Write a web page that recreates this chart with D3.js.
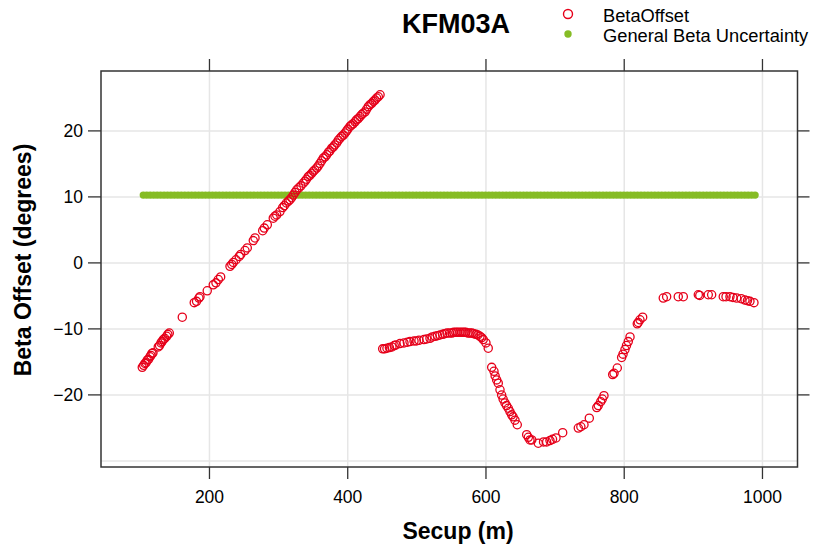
<!DOCTYPE html>
<html>
<head>
<meta charset="utf-8">
<script src="https://cdn.jsdelivr.net/npm/d3@7"></script>
<style>
  body { margin: 0; background: #fff; }
  svg { display: block; font-family: "Liberation Sans", Arial, sans-serif; }
  .axis path { display: none; }
  .axis line { stroke: #333; stroke-width: 1.3; }
  .axis text { font-size: 17.5px; fill: #000; }
  .grid path { display: none; }
  .grid line { stroke: #e6e6e6; stroke-width: 1.5; }
</style>
</head>
<body>
<div id="chart"></div>
<script>
// BetaOffset measurements (Secup in m, offset in degrees)
const secup = [
  103.5, 105.5, 107.4, 109, 110.7, 112.5, 114.6, 116, 117.5, 119,
  126.6, 128.5, 130.6, 132, 133.9, 136, 138.8, 140.5, 142.6, 161.4,
  178.7, 182, 185.5, 187, 197.5, 206.2, 210.1, 213.5, 216.9, 230.4,
  233, 235.2, 239.1, 243.8, 246, 252.1, 255.4, 264.1, 266.6, 277.7,
  280, 284.4, 293, 295.5, 298, 302.7, 306.6, 309, 312, 315,
  317.2, 319.5, 322, 324.5, 327, 330, 333, 336.4, 339, 341,
  343.7, 346, 348.6, 351, 353, 355.8, 358, 360.6, 363, 365.4,
  368, 370.3, 373, 375, 377.6, 380, 382, 384.8, 387, 389.5,
  392, 394.5, 396.8, 399, 401, 404, 406, 408.5, 411.3, 413.5,
  416, 418.5, 421, 423, 425.8, 428, 430.5, 433, 435.5, 438,
  440.2, 442.5, 445, 447.5,
  451.3, 454, 457.5, 461, 464.7, 468, 470.5, 476.3, 482.1, 487,
  490.8, 496.6, 500, 503.8, 511, 515, 519.7, 523, 527, 530.5,
  534.2, 538, 541, 544.3, 548, 551.5, 554, 557.3, 560, 563.1,
  566, 568.9, 571.5, 574.7, 577.5, 580.5, 583, 586.3, 589, 592.1,
  594.5, 596.8, 600.7, 604, 609, 612.3, 614, 616.2, 618.5, 621,
  623.4, 625.5, 628.2, 630.5, 633, 635.4, 637.9, 640, 642.7, 646,
  659.6, 662, 664.4, 667, 676.4, 684, 688.5, 693.3, 697, 702,
  711.7, 734.3, 738, 742.5, 750.2, 761, 763.2, 766.7, 769, 771.4,
  784, 786, 790.7, 797, 799, 801.8, 804, 806.6, 809.1, 819.6,
  821, 823.5, 827.4, 857.2, 862.1, 878.9, 886.2, 907.9, 910, 922.3,
  927.2, 944, 948, 953.7, 958, 963.4, 970, 975.4, 979, 982.6,
  988.4
];
const betaOffset = [
  -15.9, -15.6, -15.3, -15.2, -14.8, -14.7, -14.3, -14.1, -13.8, -13.7,
  -12.8, -12.6, -12.2, -12.0, -11.7, -11.5, -11.2, -10.9, -10.7, -8.3,
  -6.1, -5.9, -5.4, -5.2, -4.3, -3.4, -3.1, -2.6, -2.2, -0.6,
  -0.3, 0, 0.4, 0.9, 1.2, 1.8, 2.2, 3.3, 3.7, 4.8,
  5.2, 5.7, 6.7, 7.0, 7.2, 7.7, 8.3, 8.6, 9.0, 9.3,
  9.5, 9.8, 10.2, 10.6, 11.0, 11.3, 11.6, 12.0, 12.3, 12.6,
  13.0, 13.2, 13.5, 13.8, 14.0, 14.3, 14.6, 15.0, 15.4, 15.8,
  16.0, 16.3, 16.7, 16.9, 17.3, 17.5, 17.8, 18.1, 18.5, 18.8,
  19.1, 19.3, 19.6, 19.9, 20.2, 20.6, 20.8, 21.0, 21.3, 21.6,
  21.8, 22.1, 22.4, 22.6, 22.8, 23.2, 23.6, 23.9, 24.1, 24.4,
  24.6, 24.9, 25.1, 25.4,
  -13.1, -13.1, -13.0, -12.9, -12.8, -12.6, -12.5, -12.3, -12.2, -12.1,
  -12.0, -11.9, -11.9, -11.8, -11.7, -11.6, -11.5, -11.3, -11.2, -11.1,
  -11.0, -10.9, -10.8, -10.7, -10.7, -10.7, -10.6, -10.6, -10.6, -10.6,
  -10.6, -10.6, -10.6, -10.7, -10.7, -10.7, -10.8, -10.9, -11.0, -11.2,
  -11.4, -11.7, -12.2, -13.0, -15.9, -16.5, -17.2, -17.8, -18.3, -19.3,
  -20.1, -20.7, -21.3, -21.7, -22.1, -22.6, -23.1, -23.4, -23.9, -24.6,
  -26.1, -26.5, -26.9, -26.9, -27.4, -27.2, -27.2, -27.0, -26.8, -26.6,
  -25.8, -25.1, -24.9, -24.6, -23.6, -22.0, -21.7, -21.1, -20.7, -20.2,
  -17.0, -16.8, -16.0, -14.4, -13.9, -13.2, -12.6, -12.0, -11.3, -9.3,
  -9.1, -8.7, -8.3, -5.4, -5.2, -5.2, -5.2, -4.9, -5.0, -4.9,
  -4.9, -5.2, -5.2, -5.2, -5.3, -5.4, -5.5, -5.7, -5.8, -5.9,
  -6.1
];

// General Beta Uncertainty (constant along the borehole)
const uncertaintySecup = [
  105, 110, 115, 120, 125, 130, 135, 140, 145, 150, 155, 160, 165, 170, 175,
  180, 185, 190, 195, 200, 205, 210, 215, 220, 225, 230, 235, 240, 245, 250,
  255, 260, 265, 270, 275, 280, 285, 290, 295, 300, 305, 310, 315, 320, 325,
  330, 335, 340, 345, 350, 355, 360, 365, 370, 375, 380, 385, 390, 395, 400,
  405, 410, 415, 420, 425, 430, 435, 440, 445, 450, 455, 460, 465, 470, 475,
  480, 485, 490, 495, 500, 505, 510, 515, 520, 525, 530, 535, 540, 545, 550,
  555, 560, 565, 570, 575, 580, 585, 590, 595, 600, 605, 610, 615, 620, 625,
  630, 635, 640, 645, 650, 655, 660, 665, 670, 675, 680, 685, 690, 695, 700,
  705, 710, 715, 720, 725, 730, 735, 740, 745, 750, 755, 760, 765, 770, 775,
  780, 785, 790, 795, 800, 805, 810, 815, 820, 825, 830, 835, 840, 845, 850,
  855, 860, 865, 870, 875, 880, 885, 890, 895, 900, 905, 910, 915, 920, 925,
  930, 935, 940, 945, 950, 955, 960, 965, 970, 975, 980, 985, 990
];
const uncertaintyBeta = 10.2;

const xTicks = [200, 400, 600, 800, 1000];
const yTicks = [-20, -10, 0, 10, 20];
const yGrid = [-30, -20, -10, 0, 10, 20];

const legendLabels = ["BetaOffset", "General Beta Uncertainty"];
const redCol = "#e6001a";
const greenCol = "#86bc25";

const width = 814, height = 551;
const pLeft = 101, pRight = 797.5, pTop = 71, pBottom = 467;

const svg = d3.select("#chart").append("svg")
    .attr("width", width)
    .attr("height", height);

const x = d3.scaleLinear().domain([43.8, 1051.4]).range([pLeft, pRight]);
const y = d3.scaleLinear().domain([-31, 29]).range([pBottom, pTop]);

// grid lines
svg.append("g")
    .attr("class", "grid")
    .attr("transform", `translate(0,${pBottom})`)
    .call(d3.axisBottom(x).tickValues(xTicks).tickSize(-(pBottom - pTop)).tickFormat(""));
svg.append("g")
    .attr("class", "grid")
    .attr("transform", `translate(${pLeft},0)`)
    .call(d3.axisLeft(y).tickValues(yGrid).tickSize(-(pRight - pLeft)).tickFormat(""));

// uncertainty band (filled dots)
const uData = uncertaintySecup.map(s => ({ s: s, b: uncertaintyBeta }));
svg.append("g").selectAll("circle")
    .data(uData)
    .enter().append("circle")
    .attr("cx", d => x(d.s))
    .attr("cy", d => y(d.b))
    .attr("r", 3.7)
    .attr("fill", greenCol);

// beta offset (open circles)
const pts = secup.map((s, i) => ({ s: s, b: betaOffset[i] }));
svg.append("g").selectAll("circle")
    .data(pts)
    .enter().append("circle")
    .attr("cx", d => x(d.s))
    .attr("cy", d => y(d.b))
    .attr("r", 4.1)
    .attr("fill", "none")
    .attr("stroke", redCol)
    .attr("stroke-width", 1.3);

// panel border
svg.append("rect")
    .attr("x", pLeft).attr("y", pTop)
    .attr("width", pRight - pLeft).attr("height", pBottom - pTop)
    .attr("fill", "none")
    .attr("stroke", "#333")
    .attr("stroke-width", 1.5);

// axes, ticks on all four sides, labels only bottom and left
svg.append("g")
    .attr("class", "axis")
    .attr("transform", `translate(0,${pBottom})`)
    .call(d3.axisBottom(x).tickValues(xTicks).tickSize(12).tickPadding(12).tickFormat(d3.format("d")));
svg.append("g")
    .attr("class", "axis")
    .attr("transform", `translate(0,${pTop})`)
    .call(d3.axisTop(x).tickValues(xTicks).tickSize(12).tickFormat(""));
svg.append("g")
    .attr("class", "axis")
    .attr("transform", `translate(${pLeft},0)`)
    .call(d3.axisLeft(y).tickValues(yTicks).tickSize(13).tickPadding(5));
svg.append("g")
    .attr("class", "axis")
    .attr("transform", `translate(${pRight},0)`)
    .call(d3.axisRight(y).tickValues(yTicks).tickSize(12).tickFormat(""));

// axis titles
svg.append("text")
    .attr("x", 458)
    .attr("y", 539)
    .attr("text-anchor", "middle")
    .style("font-size", "23px")
    .style("font-weight", "bold")
    .text("Secup (m)");

svg.append("text")
    .attr("transform", `translate(31,260) rotate(-90)`)
    .attr("text-anchor", "middle")
    .style("font-size", "23px")
    .style("font-weight", "bold")
    .text("Beta Offset (degrees)");

// title
svg.append("text")
    .attr("x", 456)
    .attr("y", 33)
    .attr("text-anchor", "middle")
    .style("font-size", "27px")
    .style("font-weight", "bold")
    .text("KFM03A");

// legend
const legend = svg.append("g");
legend.append("circle")
    .attr("cx", 568).attr("cy", 14).attr("r", 4.5)
    .attr("fill", "none").attr("stroke", redCol).attr("stroke-width", 1.4);
legend.append("circle")
    .attr("cx", 568).attr("cy", 34).attr("r", 3.7)
    .attr("fill", greenCol);
legend.selectAll("text.lab")
    .data(legendLabels)
    .enter().append("text")
    .attr("class", "lab")
    .attr("x", 603)
    .attr("y", (d, i) => 21.5 + i * 20)
    .style("font-size", "18.3px")
    .text(d => d);
</script>
</body>
</html>
